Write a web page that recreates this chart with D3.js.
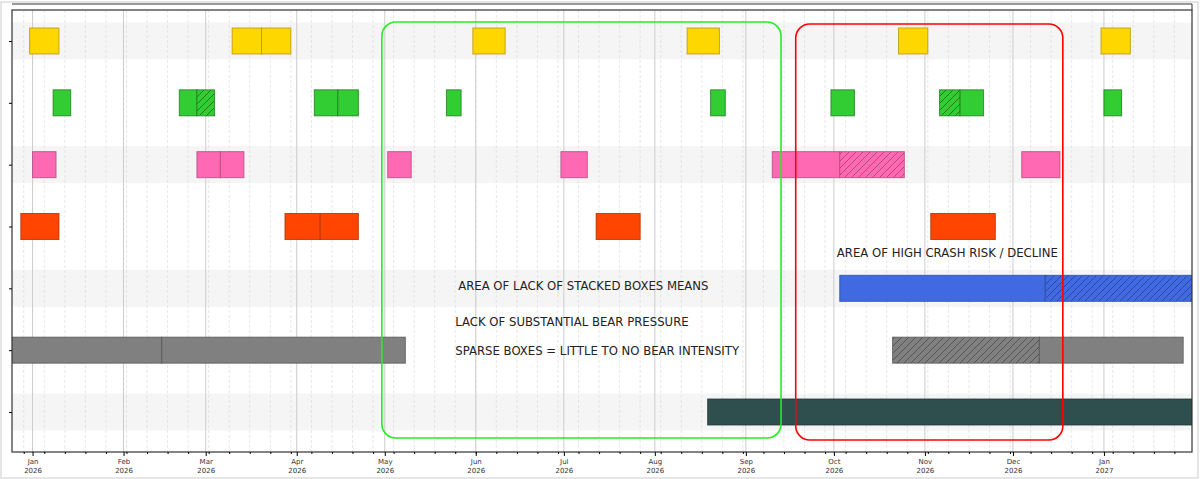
<!DOCTYPE html>
<html><head><meta charset="utf-8">
<script src="https://cdn.jsdelivr.net/npm/d3@7"></script>
<style>body{margin:0;background:#fff}svg{display:block}</style>
</head><body>
<svg width="1200" height="479"></svg>
<script>
// rows top to bottom, colours per row
const rowColors = ['#ffd700', '#32cd32', '#ff69b4', '#ff4500', '#4169e1', '#808080', '#2f4f4f'];
const rowEdges = ['#b8960a', '#1e7d1e', '#b04a80', '#b03000', '#2a4ca0', '#555555', '#1e3434'];

// boxes: [row, start, end, hatched]
const boxes = [
  [0, '2025-12-31', '2026-01-10', 0], [0, '2026-03-10', '2026-03-20', 0], [0, '2026-03-20', '2026-03-30', 0],
  [0, '2026-05-31', '2026-06-11', 0], [0, '2026-08-12', '2026-08-23', 0], [0, '2026-10-23', '2026-11-02', 0],
  [0, '2026-12-31', '2027-01-10', 0],
  [1, '2026-01-08', '2026-01-14', 0], [1, '2026-02-20', '2026-02-26', 0], [1, '2026-02-26', '2026-03-04', 1],
  [1, '2026-04-07', '2026-04-15', 0], [1, '2026-04-15', '2026-04-22', 0], [1, '2026-05-22', '2026-05-27', 0],
  [1, '2026-08-20', '2026-08-25', 0], [1, '2026-09-30', '2026-10-08', 0], [1, '2026-11-06', '2026-11-13', 1],
  [1, '2026-11-13', '2026-11-21', 0], [1, '2027-01-01', '2027-01-07', 0],
  [2, '2026-01-01', '2026-01-09', 0], [2, '2026-02-26', '2026-03-06', 0], [2, '2026-03-06', '2026-03-14', 0],
  [2, '2026-05-02', '2026-05-10', 0], [2, '2026-06-30', '2026-07-09', 0], [2, '2026-09-10', '2026-10-03', 0],
  [2, '2026-10-03', '2026-10-25', 1], [2, '2026-12-04', '2026-12-17', 0],
  [3, '2025-12-28', '2026-01-10', 0], [3, '2026-03-28', '2026-04-09', 0], [3, '2026-04-09', '2026-04-22', 0],
  [3, '2026-07-12', '2026-07-27', 0], [3, '2026-11-03', '2026-11-25', 0],
  [4, '2026-10-03', '2026-12-12', 0], [4, '2026-12-12', '2027-02-20', 1],
  [5, '2025-12-01', '2026-02-14', 0], [5, '2026-02-14', '2026-05-08', 0],
  [5, '2026-10-21', '2026-12-10', 1], [5, '2026-12-10', '2027-01-28', 0],
  [6, '2026-08-19', '2027-02-20', 0]
];

const notes = [
  ['AREA OF LACK OF STACKED BOXES MEANS', '2026-05-26', 286],
  ['LACK OF SUBSTANTIAL BEAR PRESSURE', '2026-05-25', 322],
  ['SPARSE BOXES = LITTLE TO NO BEAR INTENSITY', '2026-05-25', 351],
  ['AREA OF HIGH CRASH RISK / DECLINE', '2026-10-02', 253]
];
// highlight zones: [start, end, colour]
const zones = [['2026-04-30', '2026-09-13', '#22ee22'], ['2026-09-18', '2026-12-18', '#ff0000']];

const parse = d3.utcParse('%Y-%m-%d');
const svg = d3.select('svg');
const m = {l: 12, r: 1192, t: 10, b: 452};

const x = d3.scaleUtc().domain([parse('2025-12-25'), parse('2027-01-31')]).range([m.l, m.r]);
const y = d3.scaleLinear().domain([0, 6]).range([41, 412]);
const mid = r => y(r);

svg.append('rect').attr('x', 1).attr('y', 2).attr('width', 1197).attr('height', 476)
  .attr('fill', 'none').attr('stroke', '#ccc');

const defs = svg.append('defs');
defs.append('clipPath').attr('id', 'clip').append('rect')
  .attr('x', m.l).attr('y', m.t).attr('width', m.r - m.l).attr('height', m.b - m.t);
rowColors.forEach((c, i) => {
  const p = defs.append('pattern').attr('id', 'h' + i).attr('patternUnits', 'userSpaceOnUse')
    .attr('width', 7).attr('height', 7);
  p.append('rect').attr('width', 7).attr('height', 7).attr('fill', c);
  p.append('path').attr('d', 'M-1,8 L8,-1 M-1,1 L1,-1 M6,8 L8,6').attr('stroke', rowEdges[i]).attr('stroke-width', 1);
});

const plot = svg.append('g').attr('clip-path', 'url(#clip)');

// alternating bands
plot.selectAll('.band').data([0, 2, 4, 6]).join('rect')
  .attr('x', m.l).attr('width', m.r - m.l)
  .attr('y', d => mid(d) - 18.5).attr('height', 37).attr('fill', '#f5f5f5');

// grids
plot.selectAll('.wk').data(x.ticks(d3.utcMonday)).join('line')
  .attr('x1', d => x(d)).attr('x2', d => x(d)).attr('y1', m.t).attr('y2', m.b)
  .attr('stroke', '#ddd').attr('stroke-dasharray', '3,2').attr('stroke-width', 0.7);
plot.selectAll('.mo').data(x.ticks(d3.utcMonth)).join('line')
  .attr('x1', d => x(d)).attr('x2', d => x(d)).attr('y1', m.t).attr('y2', m.b)
  .attr('stroke', '#ccc').attr('stroke-width', 1);

// boxes
plot.selectAll('.box').data(boxes).join('rect')
  .attr('x', d => x(parse(d[1]))).attr('width', d => x(parse(d[2])) - x(parse(d[1])))
  .attr('y', d => mid(d[0]) - 13).attr('height', 26)
  .attr('fill', d => d[3] ? `url(#h${d[0]})` : rowColors[d[0]])
  .attr('stroke', d => rowEdges[d[0]]).attr('stroke-width', 1).attr('stroke-opacity', 0.8);

// zones
svg.selectAll('.zone').data(zones).join('rect')
  .attr('x', d => x(parse(d[0]))).attr('width', d => x(parse(d[1])) - x(parse(d[0])))
  .attr('y', (d, i) => 22 + i * 2).attr('height', 416)
  .attr('rx', 14).attr('fill', 'none').attr('stroke', d => d[2]).attr('stroke-width', 1.6);

svg.selectAll('.note').data(notes).join('text')
  .attr('x', d => x(parse(d[1]))).attr('y', d => d[2]).attr('dy', '0.35em')
  .attr('font-family', 'DejaVu Sans').attr('font-size', 11.7).attr('fill', '#222')
  .text(d => d[0]);

// frame
svg.append('rect').attr('x', m.l).attr('y', m.t).attr('width', m.r - m.l).attr('height', m.b - m.t)
  .attr('fill', 'none').attr('stroke', '#333').attr('stroke-width', 1.2);
svg.append('line').attr('x1', m.l).attr('x2', m.r).attr('y1', 4).attr('y2', 4).attr('stroke', '#333');
svg.append('line').attr('x1', m.r).attr('x2', m.r).attr('y1', 4).attr('y2', m.t).attr('stroke', '#333');

// axes
svg.append('g').attr('transform', `translate(0,${m.b})`)
  .call(d3.axisBottom(x).ticks(d3.utcMonday).tickFormat('').tickSize(2));
const xMaj = svg.append('g').attr('transform', `translate(0,${m.b})`)
  .call(d3.axisBottom(x).ticks(d3.utcMonth).tickSize(4).tickFormat(''));
svg.selectAll('.domain').remove();
xMaj.selectAll('.tick').append('text').attr('fill', '#333').attr('font-family', 'DejaVu Sans')
  .attr('font-size', 7).attr('text-anchor', 'middle')
  .each(function (d) {
    const t = d3.select(this);
    t.append('tspan').attr('x', 0).attr('y', 12).text(d3.utcFormat('%b')(d));
    t.append('tspan').attr('x', 0).attr('y', 21).text(d3.utcFormat('%Y')(d));
  });
svg.append('g').attr('transform', `translate(${m.l},0)`)
  .call(d3.axisLeft(d3.scaleOrdinal().domain(d3.range(7)).range(d3.range(7).map(mid))).tickSize(3).tickFormat(''))
  .select('.domain').remove();
</script>
</body></html>
